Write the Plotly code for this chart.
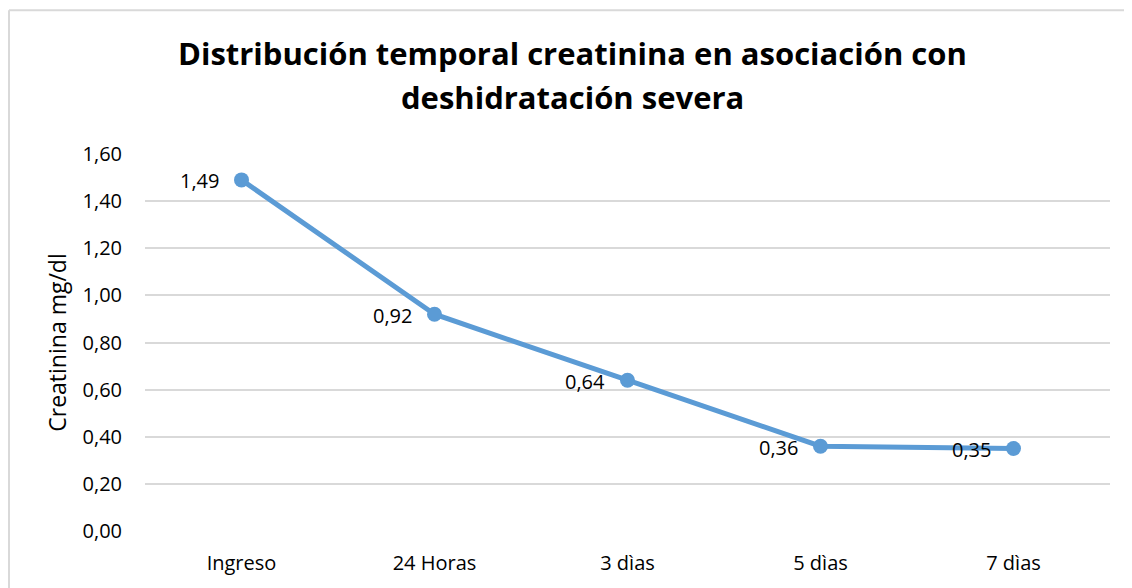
import plotly.graph_objects as go

categories = ["Ingreso", "24 Horas", "3 dìas", "5 dìas", "7 dìas"]
values = [1.49, 0.92, 0.64, 0.36, 0.35]
y_ticks = [0.0, 0.2, 0.4, 0.6, 0.8, 1.0, 1.2, 1.4, 1.6]

title_lines = ["Distribución temporal creatinina en asociación con", "deshidratación severa"]
y_title = "Creatinina mg/dl"

FONT = "Open Sans"
color = "#5B9BD5"

# Figure is offset 8px by the page body margin; sizes compensate
W, H = 1124, 580
ML, MR, MT, MB = 137, 22, 146, 55
PW, PH = W - ML - MR, H - MT - MB


def px_to_paper_x(px):
    return (px - ML) / PW


def px_to_paper_y(py):
    return (H - MB - py) / PH


def fmt(v):
    return f"{v:.2f}".replace(".", ",")


fig = go.Figure()
fig.add_trace(go.Scatter(
    x=categories, y=values, mode="lines+markers",
    line=dict(color=color, width=5),
    marker=dict(color=color, size=15),
    cliponaxis=False,
    hoverinfo="skip",
))

annotations = []
for c, v in zip(categories, values):
    annotations.append(dict(
        x=c, y=v, xref="x", yref="y", text=fmt(v), showarrow=False,
        xanchor="right", yanchor="middle", xshift=-21, yshift=-1,
        font=dict(family=FONT, size=20, color="#000000")))

title_y_px = [44, 89]
for line, ypx in zip(title_lines, title_y_px):
    annotations.append(dict(
        x=px_to_paper_x(564), y=px_to_paper_y(ypx), xref="paper", yref="paper",
        text=f"<b>{line}</b>", showarrow=False, xanchor="center", yanchor="middle",
        font=dict(family=FONT, size=31, color="#000000")))

fig.update_layout(
    width=W, height=H,
    margin=dict(l=ML, r=MR, t=MT, b=MB),
    paper_bgcolor="white", plot_bgcolor="white",
    showlegend=False,
    separators=",.",
    annotations=annotations,
    xaxis=dict(type="category", showgrid=False, zeroline=False, showline=False,
               tickfont=dict(family=FONT, size=20, color="#000000"),
               ticks="", ticklabelstandoff=18, range=[-0.5, 4.5]),
    yaxis=dict(range=[0, 1.6], tickvals=y_ticks,
               ticktext=[fmt(v) for v in y_ticks],
               showgrid=True, gridcolor="#D9D9D9", gridwidth=1.5,
               zeroline=False, showline=False, ticks="",
               ticklabelstandoff=22,
               tickfont=dict(family=FONT, size=20, color="#000000"),
               title=dict(text=y_title, standoff=9,
                          font=dict(family=FONT, size=23, color="#000000"))),
    shapes=[
        dict(type="line", xref="paper", yref="paper",
             x0=px_to_paper_x(1), x1=px_to_paper_x(1135),
             y0=px_to_paper_y(1.5), y1=px_to_paper_y(1.5),
             line=dict(color="#D9D9D9", width=2)),
        dict(type="line", xref="paper", yref="paper",
             x0=px_to_paper_x(1), x1=px_to_paper_x(1),
             y0=px_to_paper_y(1.5), y1=px_to_paper_y(590),
             line=dict(color="#D9D9D9", width=2)),
    ],
)

fig.write_html("out.html")
